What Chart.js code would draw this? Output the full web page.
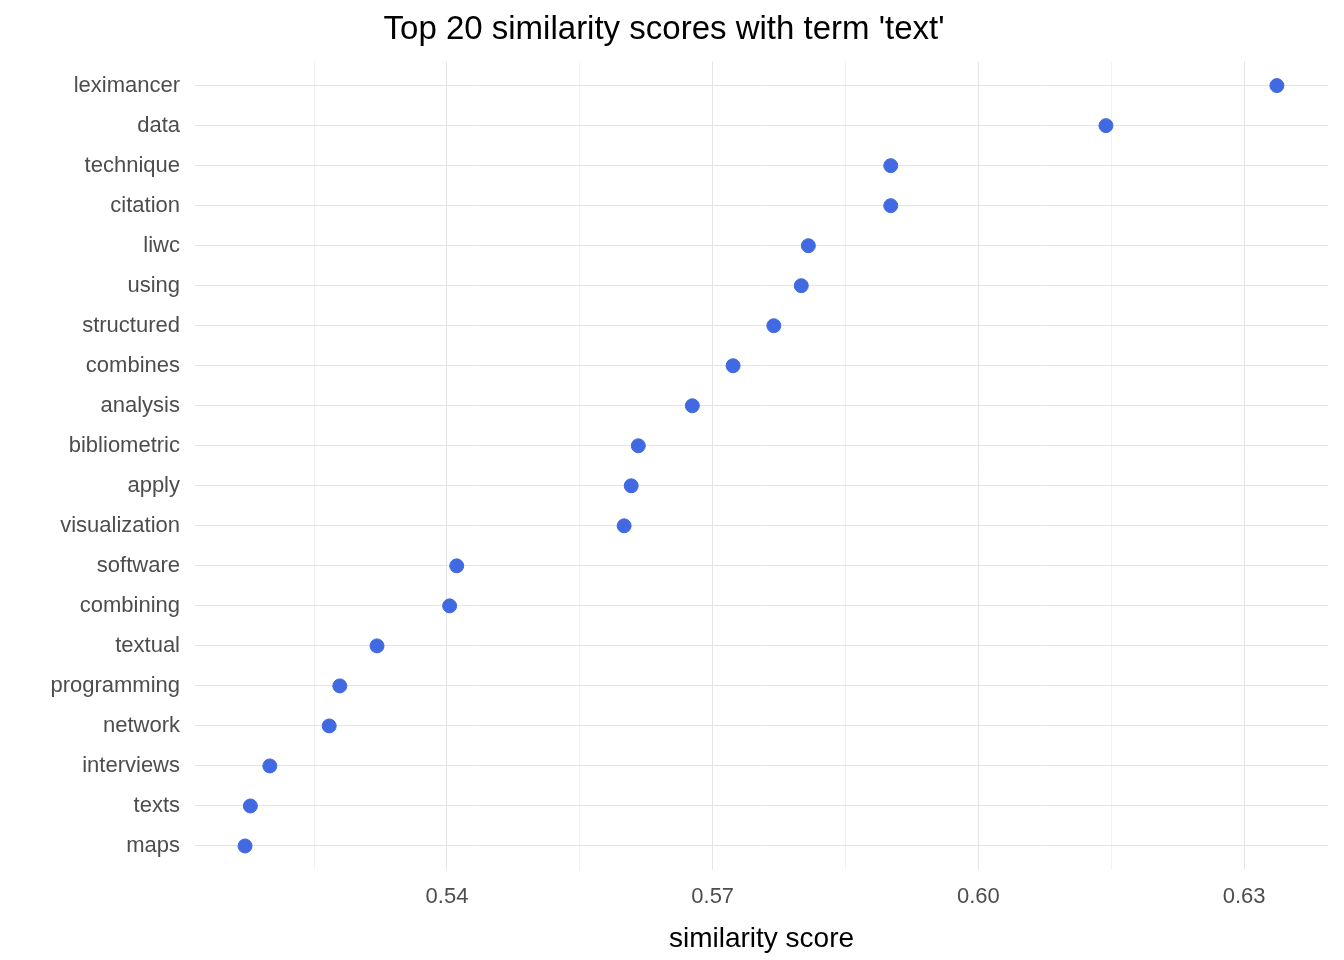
<!DOCTYPE html>
<html><head><meta charset="utf-8">
<script src="https://cdn.jsdelivr.net/npm/chart.js@4/dist/chart.umd.min.js"></script>
<style>html,body{margin:0;background:#fff}#wrap{width:1344px;height:960px}</style>
</head><body><div id="wrap"><canvas id="c"></canvas></div>
<script>
// ====== Data ======
const terms  = ['leximancer','data','technique','citation','liwc','using','structured','combines','analysis','bibliometric','apply','visualization','software','combining','textual','programming','network','interviews','texts','maps'];
const scores = [0.6337,0.6144,0.5901,0.5901,0.5808,0.5800,0.5769,0.5723,0.5677,0.5616,0.5608,0.5600,0.5411,0.5403,0.5321,0.5279,0.5267,0.5200,0.5178,0.5172];
const xTicks = [0.525,0.54,0.555,0.57,0.585,0.60,0.615,0.63];
const xMajor = [0.54,0.57,0.60,0.63];

const n = terms.length;
const pts = terms.map((t,i)=>({x:scores[i], y:n-i}));
const isMajor = v=> xMajor.some(m=>Math.abs(m-v)<1e-6);
const FF = 'Arial, Liberation Sans';

new Chart(document.getElementById('c'),{
  type:'scatter',
  data:{datasets:[{data:pts, backgroundColor:'#4169E1', borderColor:'#4169E1', pointRadius:7, pointHoverRadius:7}]},
  options:{
    responsive:true, maintainAspectRatio:false, animation:false,
    layout:{padding:{left:0,right:16,top:0,bottom:0}},
    plugins:{
      legend:{display:false}, tooltip:{enabled:false},
      title:{display:true, text:"Top 20 similarity scores with term 'text'", color:'#000',
        font:{family:FF, size:33, weight:'normal'}, padding:{top:10,bottom:12}}
    },
    scales:{
      x:{type:'linear', min:0.51155, max:0.63947,
        afterBuildTicks:s=>{ s.ticks = xTicks.map(v=>({value:v})); },
        afterFit:s=>{ s.height = 90; },
        border:{display:false},
        grid:{color:c=>isMajor(c.tick.value)?'#e5e5e5':'#f2f2f2', lineWidth:1, drawTicks:false},
        ticks:{padding:14, color:'#4d4d4d', font:{family:FF, size:22},
          callback:v=> isMajor(v) ? v.toFixed(2) : ''},
        title:{display:true, text:'similarity score', color:'#000', font:{family:FF, size:28}, padding:{top:0}}
      },
      y:{type:'linear', min:0.4, max:n+0.6,
        afterBuildTicks:s=>{ s.ticks = terms.map((t,i)=>({value:n-i})); },
        afterFit:s=>{ s.width = 195; },
        border:{display:false},
        grid:{color:'#e5e5e5', drawTicks:false},
        ticks:{padding:15, color:'#4d4d4d', font:{family:FF, size:22},
          callback:v=> terms[n-v]}
      }
    }
  }
});
</script></body></html>
